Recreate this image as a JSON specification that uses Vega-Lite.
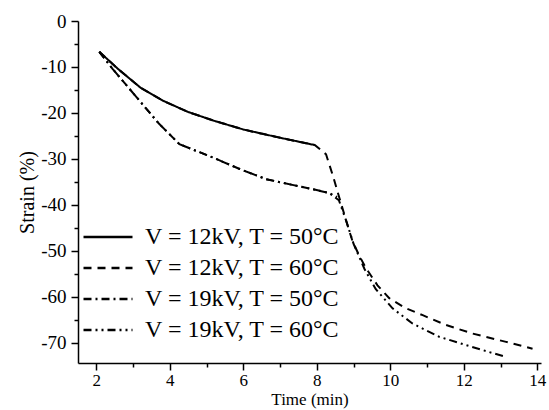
{
  "$schema": "https://vega.github.io/schema/vega-lite/v6.json",
  "width": 463,
  "height": 342,
  "autosize": {"type": "none"},
  "padding": {"left": 78, "top": 21, "right": 8, "bottom": 47},
  "config": {
    "view": {"stroke": null},
    "font": "Liberation Serif",
    "axis": {
      "domainColor": "black", "tickColor": "black", "labelColor": "black", "titleColor": "black",
      "grid": false, "labelFont": "Liberation Serif", "titleFont": "Liberation Serif",
      "labelFontSize": 19, "titleFontSize": 20,
      "domainWidth": 1.5, "tickWidth": 1.5, "titleFontWeight": "normal"
    }
  },
  "data": {"values": [
    {"series": "V = 12kV, T = 50°C", "time": 2.08, "strain": -6.7},
    {"series": "V = 12kV, T = 50°C", "time": 2.6, "strain": -10.5},
    {"series": "V = 12kV, T = 50°C", "time": 3.2, "strain": -14.5},
    {"series": "V = 12kV, T = 50°C", "time": 3.8, "strain": -17.3},
    {"series": "V = 12kV, T = 50°C", "time": 4.5, "strain": -19.8},
    {"series": "V = 12kV, T = 50°C", "time": 5.2, "strain": -21.7},
    {"series": "V = 12kV, T = 50°C", "time": 6.0, "strain": -23.6},
    {"series": "V = 12kV, T = 50°C", "time": 7.0, "strain": -25.4},
    {"series": "V = 12kV, T = 50°C", "time": 7.95, "strain": -27.0},
    {"series": "V = 12kV, T = 60°C", "time": 2.08, "strain": -6.7},
    {"series": "V = 12kV, T = 60°C", "time": 2.6, "strain": -10.5},
    {"series": "V = 12kV, T = 60°C", "time": 3.2, "strain": -14.5},
    {"series": "V = 12kV, T = 60°C", "time": 3.8, "strain": -17.3},
    {"series": "V = 12kV, T = 60°C", "time": 4.5, "strain": -19.8},
    {"series": "V = 12kV, T = 60°C", "time": 5.2, "strain": -21.7},
    {"series": "V = 12kV, T = 60°C", "time": 6.0, "strain": -23.6},
    {"series": "V = 12kV, T = 60°C", "time": 7.0, "strain": -25.4},
    {"series": "V = 12kV, T = 60°C", "time": 7.95, "strain": -27.0},
    {"series": "V = 12kV, T = 60°C", "time": 8.25, "strain": -29.0},
    {"series": "V = 12kV, T = 60°C", "time": 8.45, "strain": -34.0},
    {"series": "V = 12kV, T = 60°C", "time": 8.61, "strain": -38.4},
    {"series": "V = 12kV, T = 60°C", "time": 8.8, "strain": -43.5},
    {"series": "V = 12kV, T = 60°C", "time": 8.97, "strain": -47.9},
    {"series": "V = 12kV, T = 60°C", "time": 9.15, "strain": -51.0},
    {"series": "V = 12kV, T = 60°C", "time": 9.34, "strain": -53.8},
    {"series": "V = 12kV, T = 60°C", "time": 9.65, "strain": -57.5},
    {"series": "V = 12kV, T = 60°C", "time": 9.97, "strain": -60.3},
    {"series": "V = 12kV, T = 60°C", "time": 10.4, "strain": -62.4},
    {"series": "V = 12kV, T = 60°C", "time": 10.88, "strain": -64.0},
    {"series": "V = 12kV, T = 60°C", "time": 11.5, "strain": -66.1},
    {"series": "V = 12kV, T = 60°C", "time": 12.24, "strain": -68.0},
    {"series": "V = 12kV, T = 60°C", "time": 13.15, "strain": -69.8},
    {"series": "V = 12kV, T = 60°C", "time": 13.87, "strain": -71.3},
    {"series": "V = 19kV, T = 50°C", "time": 2.08, "strain": -6.7},
    {"series": "V = 19kV, T = 50°C", "time": 2.44, "strain": -10.4},
    {"series": "V = 19kV, T = 50°C", "time": 2.8, "strain": -13.8},
    {"series": "V = 19kV, T = 50°C", "time": 3.17, "strain": -17.3},
    {"series": "V = 19kV, T = 50°C", "time": 3.7, "strain": -22.3},
    {"series": "V = 19kV, T = 50°C", "time": 4.26, "strain": -26.8},
    {"series": "V = 19kV, T = 50°C", "time": 5.17, "strain": -29.7},
    {"series": "V = 19kV, T = 50°C", "time": 5.9, "strain": -32.2},
    {"series": "V = 19kV, T = 50°C", "time": 6.62, "strain": -34.4},
    {"series": "V = 19kV, T = 50°C", "time": 7.3, "strain": -35.6},
    {"series": "V = 19kV, T = 50°C", "time": 7.89, "strain": -36.6},
    {"series": "V = 19kV, T = 50°C", "time": 8.33, "strain": -37.4},
    {"series": "V = 19kV, T = 50°C", "time": 8.55, "strain": -38.3},
    {"series": "V = 19kV, T = 60°C", "time": 2.08, "strain": -6.7},
    {"series": "V = 19kV, T = 60°C", "time": 2.44, "strain": -10.4},
    {"series": "V = 19kV, T = 60°C", "time": 2.8, "strain": -13.8},
    {"series": "V = 19kV, T = 60°C", "time": 3.17, "strain": -17.3},
    {"series": "V = 19kV, T = 60°C", "time": 3.7, "strain": -22.3},
    {"series": "V = 19kV, T = 60°C", "time": 4.26, "strain": -26.8},
    {"series": "V = 19kV, T = 60°C", "time": 5.17, "strain": -29.7},
    {"series": "V = 19kV, T = 60°C", "time": 5.9, "strain": -32.2},
    {"series": "V = 19kV, T = 60°C", "time": 6.62, "strain": -34.4},
    {"series": "V = 19kV, T = 60°C", "time": 7.3, "strain": -35.6},
    {"series": "V = 19kV, T = 60°C", "time": 7.89, "strain": -36.6},
    {"series": "V = 19kV, T = 60°C", "time": 8.33, "strain": -37.4},
    {"series": "V = 19kV, T = 60°C", "time": 8.6, "strain": -39.0},
    {"series": "V = 19kV, T = 60°C", "time": 8.8, "strain": -43.5},
    {"series": "V = 19kV, T = 60°C", "time": 9.0, "strain": -48.5},
    {"series": "V = 19kV, T = 60°C", "time": 9.3, "strain": -54.0},
    {"series": "V = 19kV, T = 60°C", "time": 9.6, "strain": -58.3},
    {"series": "V = 19kV, T = 60°C", "time": 10.06, "strain": -62.5},
    {"series": "V = 19kV, T = 60°C", "time": 10.6, "strain": -65.8},
    {"series": "V = 19kV, T = 60°C", "time": 11.33, "strain": -68.7},
    {"series": "V = 19kV, T = 60°C", "time": 12.06, "strain": -70.5},
    {"series": "V = 19kV, T = 60°C", "time": 12.6, "strain": -71.8},
    {"series": "V = 19kV, T = 60°C", "time": 13.15, "strain": -73.1}
  ]},
  "mark": {"type": "line", "color": "black", "strokeWidth": 2},
  "encoding": {
    "x": {
      "field": "time", "type": "quantitative",
      "scale": {"domain": [1.5, 14.1], "nice": false, "zero": false},
      "axis": {
        "title": "Time (min)",
        "values": [2, 3, 4, 5, 6, 7, 8, 9, 10, 11, 12, 13, 14],
        "labelExpr": "datum.value % 2 === 0 ? '' + datum.value : ''",
        "tickSize": {"condition": {"test": "datum.value % 2 === 0", "value": 7}, "value": 4},
        "labelFontSize": 17,
        "labelPadding": 2,
        "titleFontSize": 17,
        "titlePadding": 3
      }
    },
    "y": {
      "field": "strain", "type": "quantitative",
      "scale": {"domain": [-74.4, 0], "nice": false, "zero": false},
      "axis": {
        "title": "Strain (%)",
        "values": [-70, -65, -60, -55, -50, -45, -40, -35, -30, -25, -20, -15, -10, -5, 0],
        "labelExpr": "datum.value % 10 === 0 ? '' + datum.value : ''",
        "tickSize": {"condition": {"test": "datum.value % 10 === 0", "value": 7}, "value": 4},
        "labelPadding": 5,
        "titlePadding": 3
      }
    },
    "strokeDash": {
      "field": "series", "type": "nominal",
      "scale": {
        "domain": ["V = 12kV, T = 50°C", "V = 12kV, T = 60°C", "V = 19kV, T = 50°C", "V = 19kV, T = 60°C"],
        "range": [[1, 0], [8, 6], [8, 4, 2, 4], [8, 4, 2, 4, 2, 4]]
      },
      "legend": {
        "title": null,
        "orient": "none",
        "legendX": 11,
        "legendY": 197,
        "padding": 0,
        "rowPadding": 0,
        "symbolType": "M-1.4,0H1.4",
        "symbolSize": 1225,
        "symbolStrokeWidth": 2.5,
        "symbolStrokeColor": "black",
        "labelFont": "Liberation Serif",
        "labelFontSize": 24,
        "labelColor": "black",
        "labelOffset": 18,
        "labelLimit": 300
      }
    }
  }
}
